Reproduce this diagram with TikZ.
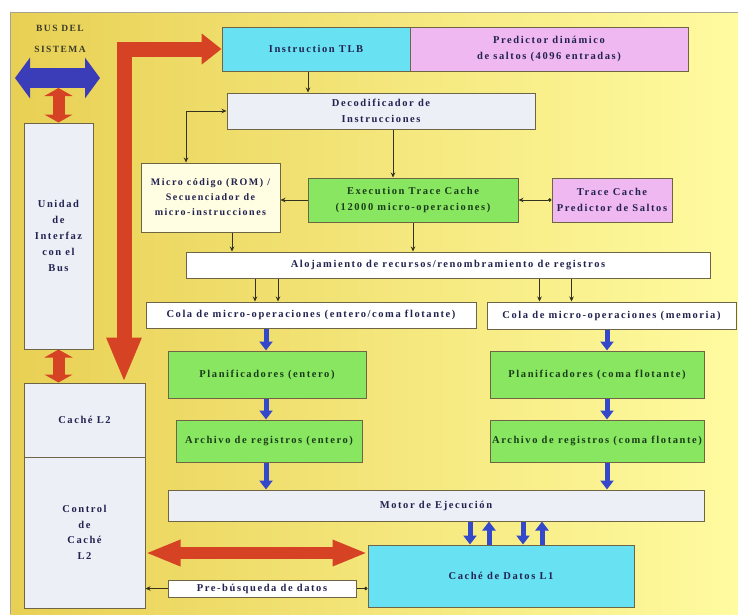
\documentclass[tikz,border=0pt]{standalone}
\usepackage{fontspec}
\setmainfont{Liberation Serif}[LetterSpace=15]
\usetikzlibrary{arrows.meta,calc}

\definecolor{panelL}{RGB}{232,208,84}
\definecolor{panelM}{RGB}{250,238,120}
\definecolor{panelR}{RGB}{255,251,160}
\definecolor{redarrow}{RGB}{214,66,36}
\definecolor{busblue}{RGB}{58,60,184}
\definecolor{flowblue}{RGB}{52,72,204}
\definecolor{tlbcyan}{RGB}{104,226,242}
\definecolor{predpink}{RGB}{240,184,240}
\definecolor{unitgreen}{RGB}{136,230,96}
\definecolor{paleblock}{RGB}{236,240,246}
\definecolor{creamblock}{RGB}{255,253,226}
\definecolor{edgecol}{RGB}{110,100,70}
\definecolor{labelcol}{RGB}{34,34,80}
\definecolor{greenlabel}{RGB}{26,60,26}
\definecolor{buslabel}{RGB}{60,60,40}
\definecolor{wirecol}{RGB}{50,50,30}

\tikzset{
  blk/.style={draw=edgecol, line width=1pt, inner sep=1pt, align=center,
    font=\fontsize{10.5}{15.5}\selectfont\bfseries, text=labelcol},
  cyanblk/.style={blk, fill=tlbcyan},
  pinkblk/.style={blk, fill=predpink},
  greenblk/.style={blk, fill=unitgreen, text=greenlabel},
  paleblk/.style={blk, fill=paleblock},
  whiteblk/.style={blk, fill=white},
  creamblk/.style={blk, fill=creamblock},
  tallblk/.style={paleblk, font=\fontsize{10.5}{16}\selectfont\bfseries},
  thinarrow/.style={draw=wirecol, line width=0.7pt, -{Stealth[length=5pt,width=4.5pt]}},
  thinboth/.style={draw=wirecol, line width=0.7pt, {Stealth[length=5pt,width=4.5pt]}-{Stealth[length=5pt,width=4.5pt]}},
  dotarrow/.style={draw=wirecol, line width=0.7pt, {Circle[length=3.5pt]}-{Stealth[length=5pt,width=4.5pt]}},
  dotline/.style={draw=wirecol, line width=0.7pt, {Circle[length=3.5pt]}-},
  flow/.style={draw=flowblue, line width=5pt, -{Triangle[length=9pt,width=13pt]}},
  busarrow/.style={draw=busblue, line width=20pt, {Triangle[length=15pt,width=40pt]}-{Triangle[length=15pt,width=40pt]}},
  redlink/.style={draw=redarrow, line width=12pt, {Triangle[length=8pt,width=28pt]}-{Triangle[length=8pt,width=28pt]}},
  redwide/.style={draw=redarrow, line width=12pt, {Triangle[length=35pt,width=24pt]}-{Triangle[length=35pt,width=24pt]}},
  bigred/.style={draw=redarrow, line width=15pt, line join=miter, {Triangle[length=45pt,width=32pt]}-{Triangle[length=20pt,width=30pt]}},
}

\begin{document}
\begin{tikzpicture}[x=1pt,y=-1pt]
\useasboundingbox (0,0) rectangle (738,614);
\fill[white] (0,0) rectangle (738,614);
\shade[left color=panelL, middle color=panelM, right color=panelR] (10,12) rectangle (738,614);
\draw[edgecol!60, line width=0.6pt] (10,614) -- (10,12) -- (738,12);

% system bus label
\node[font=\fontsize{9.5}{10}\selectfont\bfseries, text=buslabel] (buslbl1) at (60,28) {BUS DEL};
\node[font=\fontsize{9.5}{10}\selectfont\bfseries, text=buslabel] (buslbl2) at (60,49) {SISTEMA};

% front end
\node[cyanblk, minimum width=188pt, minimum height=44pt] (tlb) at (316,49) {Instruction TLB};
\node[pinkblk, minimum width=278pt, minimum height=44pt] (pred) at (549,49) {Predictor dinámico\\de saltos (4096 entradas)};
\node[paleblk, minimum width=308pt, minimum height=36pt] (dec) at (381,111) {Decodificador de\\Instrucciones};
\node[creamblk, minimum width=139pt, minimum height=69pt, font=\fontsize{10}{15}\selectfont\bfseries] (micro) at (210.5,197.5) {Micro código (ROM) /\\Secuenciador de\\micro-instrucciones};
\node[greenblk, minimum width=210pt, minimum height=44pt] (etc) at (413,200) {Execution Trace Cache\\(12000 micro-operaciones)};
\node[pinkblk, minimum width=120pt, minimum height=44pt] (tcp) at (612,200) {Trace Cache\\Predictor de Saltos};
\node[whiteblk, minimum width=524pt, minimum height=26pt] (aloj) at (448,265) {Alojamiento de recursos/renombramiento de registros};

% queues, schedulers, register files
\node[whiteblk, minimum width=330pt, minimum height=26pt] (colaE) at (311,315) {Cola de micro-operaciones (entero/coma flotante)};
\node[whiteblk, minimum width=249pt, minimum height=27pt] (colaM) at (611.5,315.5) {Cola de micro-operaciones (memoria)};
\node[greenblk, minimum width=198pt, minimum height=47pt] (planE) at (267,374.5) {Planificadores (entero)};
\node[greenblk, minimum width=214pt, minimum height=47pt] (planC) at (597,374.5) {Planificadores (coma flotante)};
\node[greenblk, minimum width=186pt, minimum height=42pt] (archE) at (269,441) {Archivo de registros (entero)};
\node[greenblk, minimum width=214pt, minimum height=42pt] (archC) at (597,441) {Archivo de registros (coma flotante)};
\node[paleblk, minimum width=536pt, minimum height=31pt] (motor) at (436,505.5) {Motor de Ejecución};
\node[cyanblk, minimum width=266pt, minimum height=62pt] (l1) at (501,576) {Caché de Datos L1};
\node[whiteblk, minimum width=188pt, minimum height=17pt] (pre) at (262,588.5) {Pre-búsqueda de datos};

% bus interface and L2 column
\node[tallblk, minimum width=69pt, minimum height=226pt] (unidad) at (58.5,236) {Unidad\\de\\Interfaz\\con el\\Bus};
\node[paleblk, minimum width=121pt, minimum height=74pt] (cacheL2) at (84.5,420) {Caché L2};
\node[paleblk, minimum width=121pt, minimum height=151pt] (ctrl) at (84.5,532.5) {Control\\de\\Caché\\L2};

% wide bus arrows
\coordinate (busW) at (15,78);
\coordinate (busE) at (100,78);
\coordinate (busfoot) at (58.5,88);
\coordinate (bend) at (124,49);
\draw[busarrow] (busW) -- (busE);
\draw[redlink] (busfoot) -- (busfoot |- unidad.north);
\draw[redlink] (unidad.south) -- (unidad.south |- cacheL2.north);
\draw[bigred] (bend |- cacheL2.north) -- (bend) -- (tlb.west);
\draw[redwide] ([yshift=23pt]l1.west -| ctrl.east) -- ([yshift=23pt]l1.west);

% thin control connectors
\draw[thinarrow] ([xshift=-8pt]tlb.south) -- ([xshift=-8pt]tlb.south |- dec.north);
\draw[thinarrow] ([xshift=12pt]dec.south) -- ([xshift=12pt]dec.south |- etc.north);
\draw[thinboth] (dec.west) -| ([xshift=-24.5pt]micro.north);
\draw[thinarrow] (etc.west) -- (etc.west -| micro.east);
\draw[dotarrow] (tcp.west) -- (tcp.west -| etc.east);
\draw[thinarrow] ([xshift=21.5pt]micro.south) -- ([xshift=21.5pt]micro.south |- aloj.north);
\draw[thinarrow] (etc.south) -- (etc.south |- aloj.north);
\draw[thinarrow] ([xshift=-56pt]colaE.north |- aloj.south) -- ([xshift=-56pt]colaE.north);
\draw[thinarrow] ([xshift=-33pt]colaE.north |- aloj.south) -- ([xshift=-33pt]colaE.north);
\draw[thinarrow] ([xshift=-72pt]colaM.north |- aloj.south) -- ([xshift=-72pt]colaM.north);
\draw[thinarrow] ([xshift=-40pt]colaM.north |- aloj.south) -- ([xshift=-40pt]colaM.north);

% micro-op flow
\draw[flow] ([xshift=-1pt]planE.north |- colaE.south) -- ([xshift=-1pt]planE.north);
\draw[flow] ([xshift=-1pt]planE.south) -- ([xshift=-1pt]planE.south |- archE.north);
\draw[flow] ([xshift=-3pt]archE.south) -- ([xshift=-3pt]archE.south |- motor.north);
\draw[flow] ([xshift=10pt]planC.north |- colaM.south) -- ([xshift=10pt]planC.north);
\draw[flow] ([xshift=10pt]planC.south) -- ([xshift=10pt]planC.south |- archC.north);
\draw[flow] ([xshift=10pt]archC.south) -- ([xshift=10pt]archC.south |- motor.north);

% execution engine <-> L1 data cache
\draw[flow] ([xshift=-31pt]l1.north |- motor.south) -- ([xshift=-31pt]l1.north);
\draw[flow] ([xshift=-12pt]l1.north) -- ([xshift=-12pt]l1.north |- motor.south);
\draw[flow] ([xshift=22pt]l1.north |- motor.south) -- ([xshift=22pt]l1.north);
\draw[flow] ([xshift=41pt]l1.north) -- ([xshift=41pt]l1.north |- motor.south);

% data prefetch path
\draw[dotline] (pre.east -| l1.west) -- (pre.east);
\draw[thinarrow] (pre.west) -- (pre.west -| ctrl.east);
\end{tikzpicture}
\end{document}
